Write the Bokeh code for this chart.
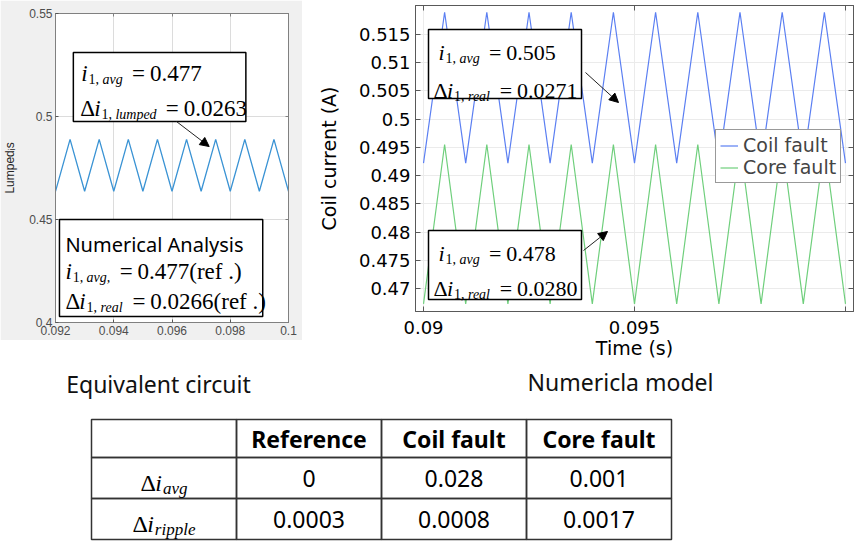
from bokeh.plotting import figure
from bokeh.models import (Range1d, FixedTicker, LinearAxis, ColumnDataSource,
                          Arrow, NormalHead, Legend, LegendItem)
from bokeh.layouts import row, column
from bokeh.embed import file_html
from bokeh.resources import INLINE
from bokeh.core.properties import value

# ---------------- data ----------------
lumped_t = [0.0920, 0.0925, 0.0930, 0.0935, 0.0940, 0.0945, 0.0950, 0.0955, 0.0960,
            0.0965, 0.0970, 0.0975, 0.0980, 0.0985, 0.0990, 0.0995, 0.1000]
lumped_i = [0.4637, 0.4889, 0.4637, 0.4889, 0.4637, 0.4889, 0.4637, 0.4889, 0.4637,
            0.4889, 0.4637, 0.4889, 0.4637, 0.4889, 0.4637, 0.4889, 0.4637]

comsol_t = [0.0900, 0.0905, 0.0910, 0.0915, 0.0920, 0.0925, 0.0930, 0.0935, 0.0940,
            0.0945, 0.0950, 0.0955, 0.0960, 0.0965, 0.0970, 0.0975, 0.0980, 0.0985,
            0.0990, 0.0995, 0.1000]
coil_fault_i = [0.4922, 0.5189, 0.4922, 0.5189, 0.4922, 0.5189, 0.4922, 0.5189, 0.4922,
                0.5189, 0.4922, 0.5189, 0.4922, 0.5189, 0.4922, 0.5189, 0.4922, 0.5189,
                0.4922, 0.5189, 0.4922]
core_fault_i = [0.4673, 0.4955, 0.4673, 0.4955, 0.4673, 0.4955, 0.4673, 0.4955, 0.4673,
                0.4955, 0.4673, 0.4955, 0.4673, 0.4955, 0.4673, 0.4955, 0.4673, 0.4955,
                0.4673, 0.4955, 0.4673]
series_names = ["Coil fault", "Core fault"]

left_x_ticks = [0.092, 0.094, 0.096, 0.098, 0.1]
left_x_labels = ["0.092", "0.094", "0.096", "0.098", "0.1"]
left_y_ticks = [0.4, 0.45, 0.5, 0.55]
left_y_labels = ["0.4", "0.45", "0.5", "0.55"]
right_x_ticks = [0.09, 0.095, 0.1]
right_x_labels = ["0.09", "0.095", ""]
right_y_ticks = [0.47, 0.475, 0.48, 0.485, 0.49, 0.495, 0.5, 0.505, 0.51, 0.515]
right_y_labels = ["0.47", "0.475", "0.48", "0.485", "0.49", "0.495", "0.5", "0.505",
                  "0.51", "0.515"]

lumped_avg, lumped_ripple = "0.477", "0.0263"
numeric_avg, numeric_ripple = "0.477(ref .)", "0.0266(ref .)"
coil_avg, coil_ripple = "0.505", "0.0271"
core_avg, core_ripple = "0.478", "0.0280"

table_cols = ["Reference", "Coil fault", "Core fault"]
table_rows = ["avg", "ripple"]
delta_avg = ["0", "0.028", "0.001"]
delta_ripple = ["0.0003", "0.0008", "0.0017"]

captions = ["Equivalent circuit", "Numericla model"]

# ---------------- helpers ----------------
SERIF = "Liberation Serif"
SANS = "Noto Sans"
TR = {c: 500 for c in "0123456789"}
TR.update({'.': 250, ',': 250, ' ': 250, '=': 564, '(': 333, ')': 333, 'r': 333,
           'e': 444, 'f': 333, 'Δ': 612})
TI = {'i': 278, 'a': 500, 'v': 444, 'g': 500, 'l': 278, 'u': 500, 'm': 722, 'p': 500,
      'e': 444, 'd': 500, 'r': 389, ',': 250, ' ': 250}


def tw(text, size, style):
    tbl = TI if style == "italic" else TR
    return sum(tbl.get(c, 500) for c in text) * size / 1000.0


def math_line(delta, word, rhs, x, base, main, sub, dy):
    parts = []
    if delta:
        parts.append(("Δ", main, "normal", 0, 0))
    parts += [("i", main, "italic", 0, 0.04 * main),
              ("1, ", sub, "normal", dy, 0),
              (word, sub, "italic", dy, 0.42 * main),
              ("=", main, "normal", 0, 0.22 * main),
              (rhs, main, "normal", 0, 0)]
    out = []
    cx = x
    for t, s, st, d, gap in parts:
        out.append((cx, base + d, t, "%dpx" % s, st, SERIF))
        cx += tw(t, s, st) + gap
    return out


def mapper(fx0, fy0, fw, fh, xr, yr):
    def f(X, Y):
        return (xr[0] + (X - fx0) / fw * (xr[1] - xr[0]),
                yr[1] - (Y - fy0) / fh * (yr[1] - yr[0]))
    return f


def add_texts(p, items, m):
    xs, ys, tx, sz, stl, fnt = [], [], [], [], [], []
    for (X, Y, t, s, st, f) in items:
        x, y = m(X, Y)
        xs.append(x); ys.append(y); tx.append(t); sz.append(s); stl.append(st); fnt.append(f)
    src = ColumnDataSource(dict(x=xs, y=ys, text=tx, size=sz, style=stl, font=fnt))
    p.text(x="x", y="y", text="text", source=src, text_font="font",
           text_font_size="size", text_font_style="style", text_color="black",
           text_baseline="alphabetic", text_align="left")


def add_box(p, m, X0, Y0, X1, Y1):
    l, t = m(X0, Y0)
    r, b = m(X1, Y1)
    p.quad(left=[l], right=[r], top=[t], bottom=[b], fill_color="white",
           line_color="black", line_width=1.5)


def add_arrow(p, m, X0, Y0, X1, Y1):
    xs, ys = m(X0, Y0)
    xe, ye = m(X1, Y1)
    p.add_layout(Arrow(end=NormalHead(size=9, fill_color="black", line_color="black"),
                       x_start=xs, y_start=ys, x_end=xe, y_end=ye,
                       line_color="#222", line_width=1))


def mirror_axis(p, ticks, loc, color, tick_in):
    ax = LinearAxis(ticker=FixedTicker(ticks=ticks),
                    major_label_overrides={t: "" for t in ticks},
                    major_label_standoff=0, major_tick_in=tick_in, major_tick_out=0,
                    minor_tick_line_color=None, axis_line_color=color,
                    major_tick_line_color=color)
    p.add_layout(ax, loc)


# ---------------- left figure (equivalent circuit) ----------------
# page position of the figure: x 0..302, y 0..340 ; frame 53..288 x 13..322
LX0, LY0, LW, LH = 53, 13, 235, 309
lxr, lyr = (0.092, 0.1), (0.4, 0.55)
pl = figure(width=302, height=340, x_range=Range1d(*lxr), y_range=Range1d(*lyr),
            min_border_left=53, min_border_right=14, min_border_top=13, min_border_bottom=18,
            toolbar_location=None, output_backend="svg", border_fill_color="#f0f0f0",
            background_fill_color="white", outline_line_color="#808080")
pl.xaxis.ticker = FixedTicker(ticks=left_x_ticks)
pl.xaxis.major_label_overrides = dict(zip(left_x_ticks, left_x_labels))
pl.yaxis.ticker = FixedTicker(ticks=left_y_ticks)
pl.yaxis.major_label_overrides = dict(zip(left_y_ticks, left_y_labels))
for ax in pl.axis:
    ax.major_tick_in = 3
    ax.major_tick_out = 0
    ax.minor_tick_line_color = None
    ax.axis_line_color = "#808080"
    ax.major_tick_line_color = "#555555"
    ax.major_label_text_font = "Liberation Sans"
    ax.major_label_text_font_size = "12px"
    ax.major_label_text_color = "#4d4d4d"
    ax.major_label_standoff = 3
pl.yaxis.axis_label = "Lumpedᵢs"
pl.yaxis.axis_label_text_font = "Liberation Sans"
pl.yaxis.axis_label_text_font_size = "12px"
pl.yaxis.axis_label_text_font_style = "normal"
pl.yaxis.axis_label_text_color = "#262626"
pl.yaxis.axis_label_standoff = 9
pl.grid.grid_line_color = "#dcdcdc"
mirror_axis(pl, left_x_ticks, "above", "#808080", 3)
mirror_axis(pl, left_y_ticks, "right", "#808080", 3)

pl.line(lumped_t, lumped_i, line_color="#3a93d4", line_width=1.3)

ml = mapper(LX0, LY0, LW, LH, lxr, lyr)
add_box(pl, ml, 71, 52, 245, 121)
add_box(pl, ml, 57, 219, 262, 316)
items = []
items += math_line(False, "avg", lumped_avg, 79, 73, 23, 14, 6)
items += math_line(True, "lumped", lumped_ripple, 78, 108, 23, 14, 6)
items.append((63, 244, "Numerical Analysis", "20px", "normal", SANS))
items += math_line(False, "avg,", numeric_avg, 63, 271, 23, 14, 6)
items += math_line(True, "real", numeric_ripple, 63, 301, 23, 14, 6)
add_texts(pl, items, ml)
add_arrow(pl, ml, 175, 121, 208, 146)

# ---------------- right figure (numerical model) ----------------
# page position: x 302..858, y 0..367 ; frame 415..853 x 5..311
RX0, RY0, RW, RH = 415, 5, 438, 306
rxr, ryr = (0.08981, 0.10019), (0.46594, 0.5201)
pr = figure(width=556, height=367, x_range=Range1d(*rxr), y_range=Range1d(*ryr),
            min_border_left=113, min_border_right=5, min_border_top=5, min_border_bottom=56,
            toolbar_location=None, output_backend="svg", border_fill_color="white",
            background_fill_color="white", outline_line_color="#595959")
pr.xaxis.ticker = FixedTicker(ticks=right_x_ticks)
pr.xaxis.major_label_overrides = dict(zip(right_x_ticks, right_x_labels))
pr.yaxis.ticker = FixedTicker(ticks=right_y_ticks)
pr.yaxis.major_label_overrides = dict(zip(right_y_ticks, right_y_labels))
for ax in pr.axis:
    ax.major_tick_in = 5
    ax.major_tick_out = 0
    ax.minor_tick_line_color = None
    ax.axis_line_color = "#595959"
    ax.major_tick_line_color = "#595959"
    ax.major_label_text_font = "DejaVu Sans"
    ax.major_label_text_font_size = "18px"
    ax.major_label_text_color = "black"
    ax.major_label_standoff = 5
    ax.axis_label_text_font = "DejaVu Sans"
    ax.axis_label_text_font_size = "19px"
    ax.axis_label_text_font_style = "normal"
    ax.axis_label_text_color = "black"
pr.xaxis.axis_label = "Time (s)"
pr.xaxis.major_label_standoff = 9
pr.xaxis.axis_label_standoff = 0
pr.yaxis.axis_label = "Coil current (A)"
pr.yaxis.axis_label_standoff = 16
pr.grid.grid_line_color = "#ebebeb"
mirror_axis(pr, right_y_ticks, "right", "#595959", 5)
mirror_axis(pr, right_x_ticks, "above", "#595959", 5)

r_coil = pr.line(comsol_t, coil_fault_i, line_color="#5b7ff2", line_width=1.2)
r_core = pr.line(comsol_t, core_fault_i, line_color="#6fcf7c", line_width=1.2)

mr = mapper(RX0, RY0, RW, RH, rxr, ryr)
add_box(pr, mr, 428, 29, 581, 98)
add_box(pr, mr, 428, 230, 581, 299)
items = []
items += math_line(False, "avg", coil_avg, 438, 52, 22, 14, 6)
items += math_line(True, "real", coil_ripple, 433, 90, 22, 14, 6)
items += math_line(False, "avg", core_avg, 438, 253, 22, 14, 6)
items += math_line(True, "real", core_ripple, 433, 288, 22, 14, 6)
add_texts(pr, items, mr)
add_arrow(pr, mr, 585, 72, 618, 102)
add_arrow(pr, mr, 583, 250, 607, 231)

legend = Legend(items=[LegendItem(label=series_names[0], renderers=[r_coil]),
                       LegendItem(label=series_names[1], renderers=[r_core])],
                location=(300, 128), label_text_font="DejaVu Sans",
                label_text_font_size="19px", glyph_width=18, glyph_height=21,
                label_height=21, label_standoff=5, padding=4, spacing=0, margin=0,
                border_line_color="#333333", border_line_width=1.5,
                background_fill_color="white", background_fill_alpha=1.0)
pr.add_layout(legend)

# ---------------- bottom: captions + table ----------------
# page position: x 0..858, y 367..548
pb = figure(width=858, height=181, x_range=Range1d(0, 858), y_range=Range1d(548, 367),
            min_border=0, toolbar_location=None, output_backend="svg",
            x_axis_location=None, y_axis_location=None, outline_line_color=None)
pb.grid.visible = False

pb.text(x=[158, 620], y=[383, 381], text=captions, text_font=value(SANS),
        text_font_size="23px", text_align="center", text_baseline="middle",
        text_color="#111111")

col_edges = [91, 236, 381, 526, 671]
row_edges = [419, 457, 498, 539]
ql, qr, qt, qb = [], [], [], []
for i in range(len(row_edges) - 1):
    for j in range(len(col_edges) - 1):
        ql.append(col_edges[j]); qr.append(col_edges[j + 1])
        qt.append(row_edges[i]); qb.append(row_edges[i + 1])
pb.quad(left=ql, right=qr, top=qt, bottom=qb, fill_color=None, line_color="#333333",
        line_width=1.5)

ccx = [(col_edges[j] + col_edges[j + 1]) / 2 for j in range(1, 4)]
rcy = [(row_edges[i] + row_edges[i + 1]) / 2 for i in range(3)]
pb.text(x=ccx, y=[rcy[0]] * 3, text=table_cols, text_font=value(SANS),
        text_font_size="23px", text_font_style="bold", text_align="center",
        text_baseline="middle", text_color="black")
vx, vy, vt = [], [], []
for i, vals in enumerate([delta_avg, delta_ripple]):
    for j, v in enumerate(vals):
        vx.append(ccx[j]); vy.append(rcy[i + 1]); vt.append(v)
pb.text(x=vx, y=vy, text=vt, text_font=value(SANS), text_font_size="23px",
        text_align="center", text_baseline="middle", text_color="black")

items = []
cx0 = (col_edges[0] + col_edges[1]) / 2
for i, word in enumerate(table_rows):
    parts = [("Δ", 24, "normal", 0), ("i", 24, "italic", 0), (word, 17, "italic", 5)]
    total = sum(tw(t, s, st) for t, s, st, d in parts) + 1
    x = cx0 - total / 2
    base = rcy[i + 1] + 5
    for t, s, st, d in parts:
        items.append((x, base + d, t, "%dpx" % s, st, SERIF))
        x += tw(t, s, st) + (1 if t == "i" else 0)
add_texts(pb, items, lambda X, Y: (X, Y))

layout = column(row(column(pl), column(pr)), pb)
open("out.html", "w").write(file_html(layout, INLINE))
